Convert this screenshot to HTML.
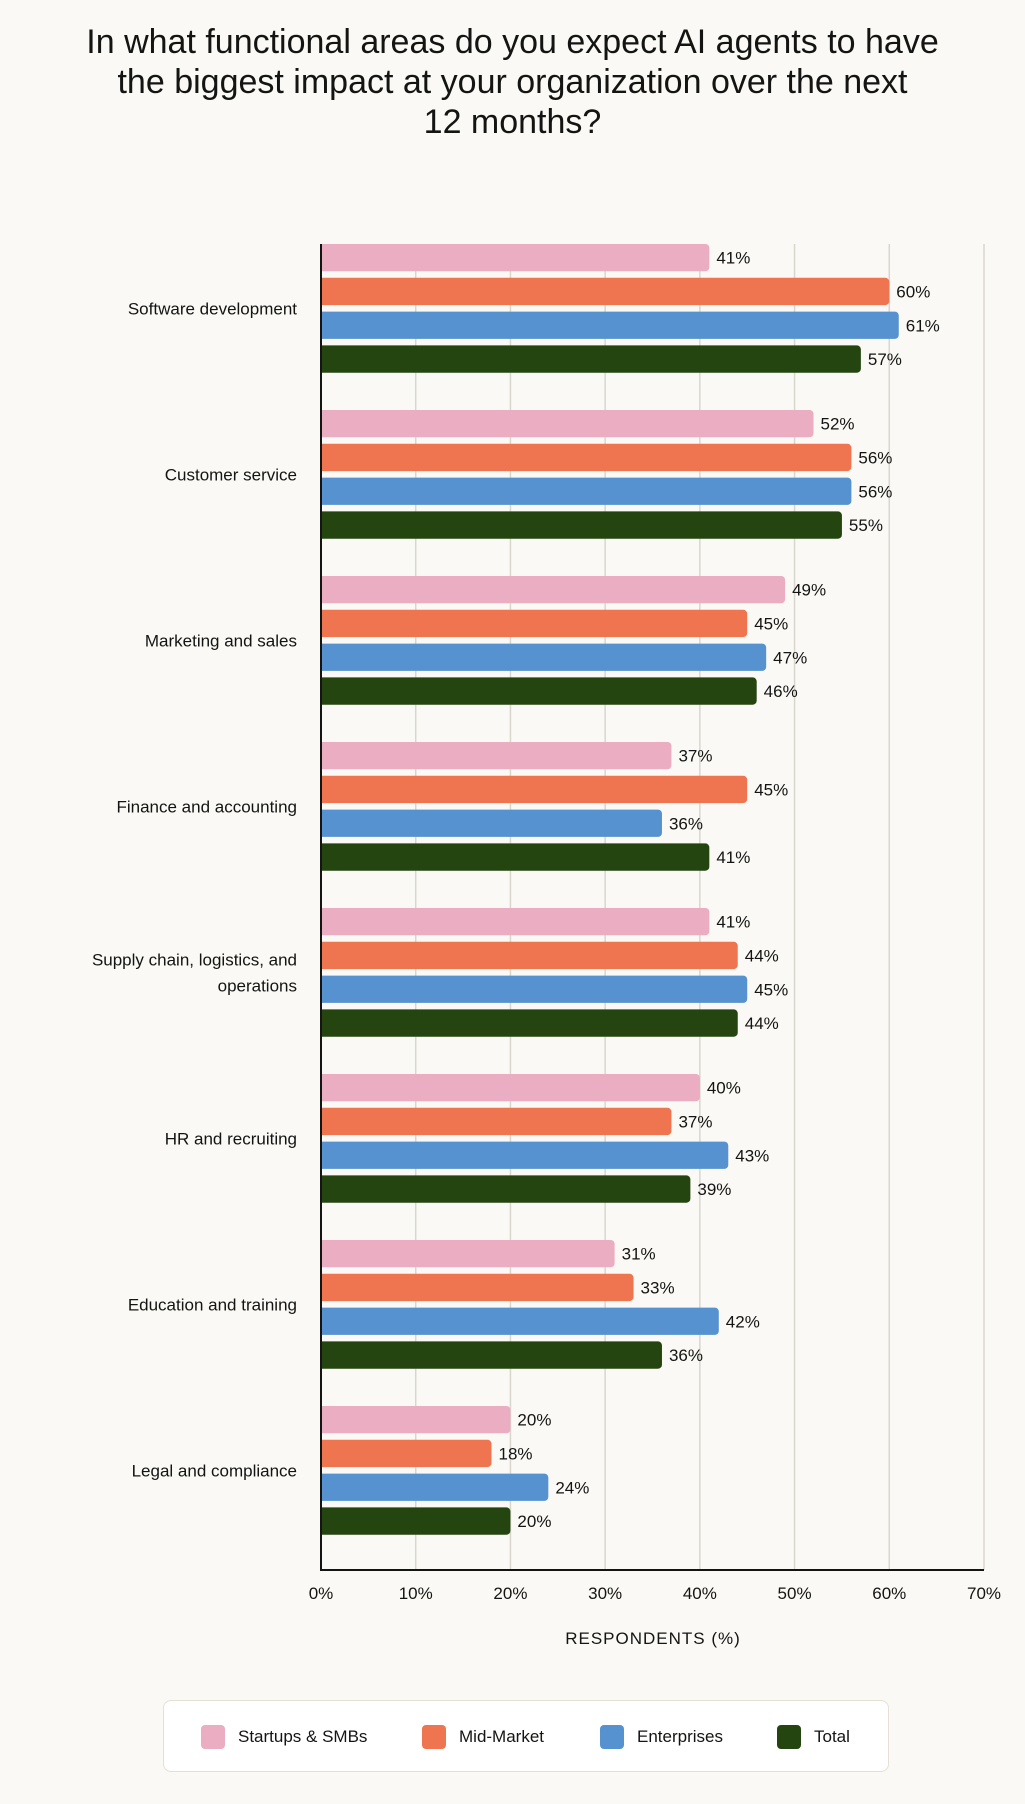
<!DOCTYPE html>
<html><head><meta charset="utf-8"><style>
body{margin:0;background:#faf9f5;font-family:"Liberation Sans",sans-serif;color:#141413}
#wrap{position:relative;width:1025px;height:1804px;overflow:hidden}
h1{position:absolute;left:0;top:22px;width:1025px;margin:0;text-align:center;font-weight:400;font-size:34px;line-height:40px}
#legend{position:absolute;left:163px;top:1700px;width:726px;height:72px;background:#fff;border:1.5px solid #e6e0d4;border-radius:8px;box-sizing:border-box}
.li{position:absolute;top:24px;font-size:17px;line-height:24px}
.sw{display:inline-block;width:24px;height:24px;border-radius:4px;vertical-align:top;margin-right:13px}
</style></head><body>
<div id="wrap">
<h1>In what functional areas do you expect AI agents to have<br>the biggest impact at your organization over the next<br>12 months?</h1>
<svg id="svg" width="1025" height="1804" style="position:absolute;left:0;top:0"></svg>
<div id="legend">
<div class="li" style="left:37px"><span class="sw" style="background:#ebadc1"></span>Startups &amp; SMBs</div>
<div class="li" style="left:258px"><span class="sw" style="background:#ee754f"></span>Mid-Market</div>
<div class="li" style="left:436px"><span class="sw" style="background:#5592cf"></span>Enterprises</div>
<div class="li" style="left:613px"><span class="sw" style="background:#24450f"></span>Total</div>
</div>
</div>
<script>
const categories=["Software development","Customer service","Marketing and sales","Finance and accounting","Supply chain, logistics, and|operations","HR and recruiting","Education and training","Legal and compliance"];
const startups=[41,52,49,37,41,40,31,20];
const midMarket=[60,56,45,45,44,37,33,18];
const enterprises=[61,56,47,36,45,43,42,24];
const total=[57,55,46,41,44,39,36,20];
const ticks=[0,10,20,30,40,50,60,70];
const series=[startups,midMarket,enterprises,total];
const seriesNames=["startups","mid-market","enterprises","total"];
const colors=["#ebadc1","#ee754f","#5592cf","#24450f"];
const NS="http://www.w3.org/2000/svg",svg=document.getElementById("svg");
const x0=321,x1=984,yTop=244,yBottom=1570,gp=166,bp=33.8,bh=27.3;
const xs=v=>x0+(v/70)*(x1-x0);
function el(t,a,p){const e=document.createElementNS(NS,t);for(const k in a)e.setAttribute(k,a[k]);(p||svg).appendChild(e);return e;}
ticks.forEach(t=>{
 if(t>0){const g=el("line",{x1:xs(t),x2:xs(t),y1:yTop,y2:yBottom,stroke:"#d9d6ce","stroke-width":1.5});
 
 }
 const l=el("text",{x:xs(t),y:1599,"text-anchor":"middle","font-size":17,fill:"#141413"});l.textContent=t+"%";
 
 
});
categories.forEach((c,i)=>{
 const gy=yTop+i*gp;
 series.forEach((s,j)=>{
  const y=gy+j*bp;
  const r=el("path",{d:`M${x0},${y}H${xs(s[i])-4}a4,4 0 0 1 4,4V${y+bh-4}a4,4 0 0 1 -4,4H${x0}Z`,fill:colors[j]});
  
  
  const t=el("text",{x:xs(s[i])+7,y:y+bh/2+6,"font-size":17,fill:"#141413"});t.textContent=s[i]+"%";
  
  
 });
 const cy=gy+(3*bp+bh)/2;
 const parts=c.split("|");
 parts.forEach((p,k)=>{
  const t=el("text",{x:297,y:cy+6+(k-(parts.length-1)/2)*26,"text-anchor":"end","font-size":17,fill:"#141413"});t.textContent=p;
  
  
 });
});
const ax=el("path",{d:`M${x0},${yTop}V${yBottom}H${x1}`,fill:"none",stroke:"#141413","stroke-width":2});


const at=el("text",{x:653,y:1644,"text-anchor":"middle","font-size":17,"letter-spacing":"1",fill:"#141413"});at.textContent="RESPONDENTS (%)";


</script>
</body></html>
